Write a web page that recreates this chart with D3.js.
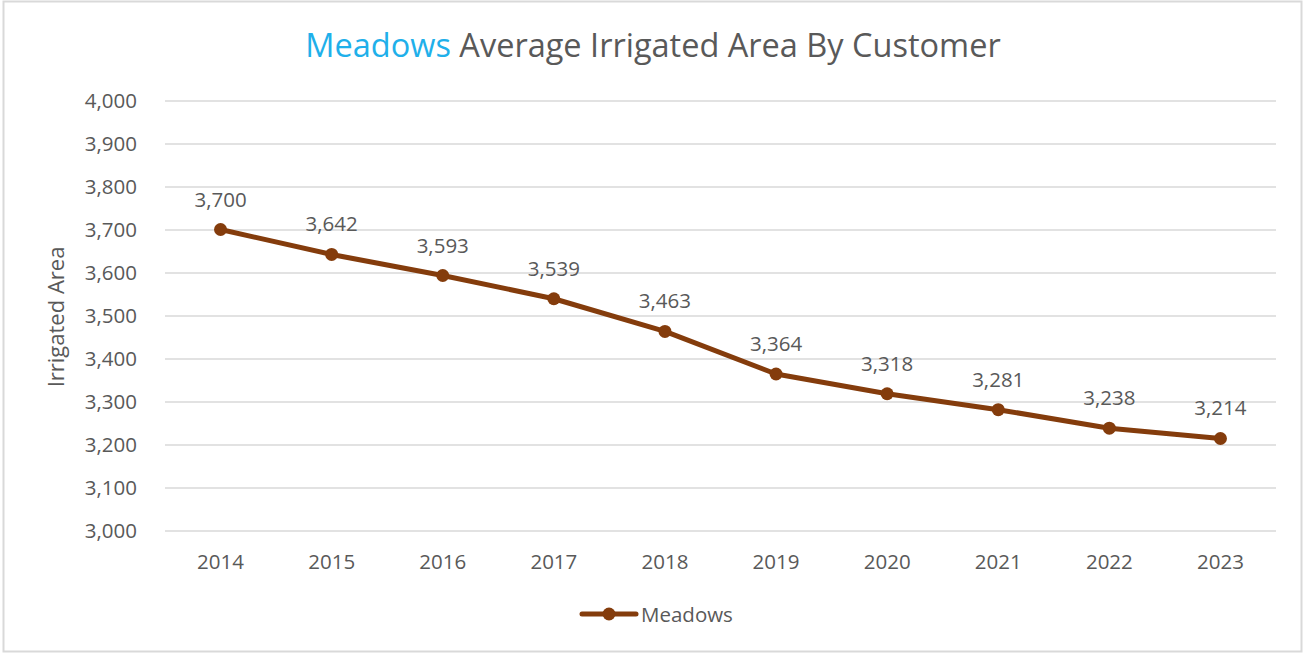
<!DOCTYPE html>
<html>
<head>
<meta charset="utf-8">
<script src="https://cdn.jsdelivr.net/npm/d3@7"></script>
<style>
  html, body { margin: 0; padding: 0; background: #fff; }
  svg { display: block; font-family: "Open Sans", "Noto Sans", sans-serif; }
</style>
</head>
<body>
<svg id="chart" width="1305" height="653"></svg>
<script>
const categories = ["2014", "2015", "2016", "2017", "2018", "2019", "2020", "2021", "2022", "2023"];
const seriesName = "Meadows";
const values = [3700, 3642, 3593, 3539, 3463, 3364, 3318, 3281, 3238, 3214];
const yTicks = [3000, 3100, 3200, 3300, 3400, 3500, 3600, 3700, 3800, 3900, 4000];
const titleHighlight = "Meadows";
const titleRest = " Average Irrigated Area By Customer";
const yAxisTitle = "Irrigated Area";

const W = 1305, H = 653;
const svg = d3.select("#chart");
const textColor = "#595959";
const lineColor = "#843C0C";
const gridColor = "#D9D9D9";
const fmt = d3.format(",");
const fs = 20.5;

// outer border
svg.append("rect")
  .attr("x", 3.5).attr("y", 1.5)
  .attr("width", 1298).attr("height", 650)
  .attr("fill", "none").attr("stroke", gridColor).attr("stroke-width", 2);

const plot = { left: 165, right: 1276, top: 100.5, bottom: 530.5 };

const x = d3.scaleBand().domain(categories).range([plot.left, plot.right]).paddingInner(0).paddingOuter(0);
const y = d3.scaleLinear().domain([3000, 4000]).range([plot.bottom, plot.top]);

// title
const title = svg.append("text")
  .attr("x", 653).attr("y", 57)
  .attr("text-anchor", "middle")
  .attr("font-size", 32.5)
  .attr("fill", textColor);
title.append("tspan").attr("fill", "#1FB0EA").text(titleHighlight);
title.append("tspan").text(titleRest);

// gridlines + y labels
const yAxis = d3.axisLeft(y).tickValues(yTicks).tickFormat(fmt)
  .tickSize(-(plot.right - plot.left)).tickPadding(28);
const yg = svg.append("g").attr("transform", `translate(${plot.left},0)`).call(yAxis);
yg.select(".domain").remove();
yg.selectAll(".tick line").attr("stroke", gridColor).attr("stroke-width", 1.5);
yg.selectAll(".tick text").attr("fill", textColor).attr("font-size", fs)
  .attr("font-family", "'Open Sans', sans-serif");

// x axis labels
const xAxis = d3.axisBottom(x).tickSize(0).tickPadding(23.5);
const xg = svg.append("g").attr("transform", `translate(0,${plot.bottom})`).call(xAxis);
xg.select(".domain").remove();
xg.selectAll(".tick text").attr("fill", textColor).attr("font-size", fs)
  .attr("font-family", "'Open Sans', sans-serif");

// y axis title
svg.append("text")
  .attr("transform", `translate(64,317) rotate(-90)`)
  .attr("text-anchor", "middle")
  .attr("font-size", 22)
  .attr("fill", textColor)
  .text(yAxisTitle);

const cx = d => x(d) + x.bandwidth() / 2;

// line
const line = d3.line().x((d, i) => cx(categories[i])).y(d => y(d));
svg.append("path")
  .datum(values)
  .attr("d", line)
  .attr("fill", "none")
  .attr("stroke", lineColor)
  .attr("stroke-width", 5)
  .attr("stroke-linejoin", "round")
  .attr("stroke-linecap", "round");

// markers
svg.append("g").selectAll("circle").data(values).join("circle")
  .attr("cx", (d, i) => cx(categories[i]))
  .attr("cy", d => y(d))
  .attr("r", 6.5)
  .attr("fill", lineColor);

// data labels
svg.append("g").selectAll("text").data(values).join("text")
  .attr("x", (d, i) => cx(categories[i]))
  .attr("y", d => y(d) - 23)
  .attr("text-anchor", "middle")
  .attr("font-size", fs)
  .attr("fill", textColor)
  .text(d => fmt(d));

// legend
const lg = svg.append("g");
lg.append("line")
  .attr("x1", 582).attr("x2", 636).attr("y1", 614).attr("y2", 614)
  .attr("stroke", lineColor).attr("stroke-width", 5).attr("stroke-linecap", "round");
lg.append("circle").attr("cx", 609).attr("cy", 614).attr("r", 6.5).attr("fill", lineColor);
lg.append("text").attr("x", 641).attr("y", 622)
  .attr("font-size", fs).attr("fill", textColor).text(seriesName);
</script>
</body>
</html>
